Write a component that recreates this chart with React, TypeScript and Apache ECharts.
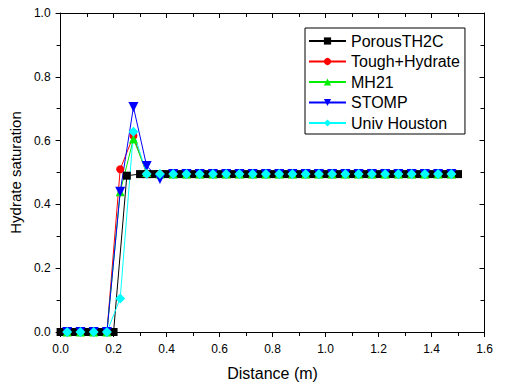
import React, { useEffect, useRef } from "react";
import * as echarts from "echarts";

const seriesNames = ["PorousTH2C", "Tough+Hydrate", "MH21", "STOMP", "Univ Houston"];
const seriesColors = ["#000000", "#ff0000", "#00ee00", "#0000ff", "#00ffff"];

// PorousTH2C (dense output)
const xPorous = [
  0, 0.025, 0.05, 0.075, 0.1, 0.125, 0.15, 0.175, 0.2,
  0.25,
  0.3, 0.325, 0.35, 0.375, 0.4, 0.425, 0.45, 0.475, 0.5, 0.525, 0.55, 0.575, 0.6, 0.625, 0.65, 0.675,
  0.7, 0.725, 0.75, 0.775, 0.8, 0.825, 0.85, 0.875, 0.9, 0.925, 0.95, 0.975, 1.0, 1.025, 1.05, 1.075,
  1.1, 1.125, 1.15, 1.175, 1.2, 1.225, 1.25, 1.275, 1.3, 1.325, 1.35, 1.375, 1.4, 1.425, 1.45, 1.475, 1.5,
];
const yPorous = [
  0, 0, 0, 0, 0, 0, 0, 0, 0,
  0.49,
  0.495, 0.495, 0.495, 0.495, 0.495, 0.495, 0.495, 0.495, 0.495, 0.495, 0.495, 0.495, 0.495, 0.495, 0.495, 0.495,
  0.495, 0.495, 0.495, 0.495, 0.495, 0.495, 0.495, 0.495, 0.495, 0.495, 0.495, 0.495, 0.495, 0.495, 0.495, 0.495,
  0.495, 0.495, 0.495, 0.495, 0.495, 0.495, 0.495, 0.495, 0.495, 0.495, 0.495, 0.495, 0.495, 0.495, 0.495, 0.495, 0.495,
];

// Other codes: cell centres every 0.05 m
const xCells = [
  0.025, 0.075, 0.125, 0.175, 0.225, 0.275, 0.325, 0.375, 0.425, 0.475,
  0.525, 0.575, 0.625, 0.675, 0.725, 0.775, 0.825, 0.875, 0.925, 0.975,
  1.025, 1.075, 1.125, 1.175, 1.225, 1.275, 1.325, 1.375, 1.425, 1.475,
];
const yTough = [
  0, 0, 0, 0, 0.51, 0.615, 0.495, 0.495, 0.495, 0.495,
  0.495, 0.495, 0.495, 0.495, 0.495, 0.495, 0.495, 0.495, 0.495, 0.495,
  0.495, 0.495, 0.495, 0.495, 0.495, 0.495, 0.495, 0.495, 0.495, 0.495,
];
const yMH21 = [
  0, 0, 0, 0, 0.44, 0.605, 0.5, 0.495, 0.495, 0.495,
  0.495, 0.495, 0.495, 0.495, 0.495, 0.495, 0.495, 0.495, 0.495, 0.495,
  0.495, 0.495, 0.495, 0.495, 0.495, 0.495, 0.495, 0.495, 0.495, 0.495,
];
const ySTOMP = [
  0, 0, 0, 0, 0.44, 0.705, 0.52, 0.48, 0.495, 0.495,
  0.495, 0.495, 0.495, 0.495, 0.495, 0.495, 0.495, 0.495, 0.495, 0.495,
  0.495, 0.495, 0.495, 0.495, 0.495, 0.495, 0.495, 0.495, 0.495, 0.495,
];
const yHouston = [
  0, 0, 0, 0, 0.105, 0.628, 0.495, 0.495, 0.495, 0.495,
  0.495, 0.495, 0.495, 0.495, 0.495, 0.495, 0.495, 0.495, 0.495, 0.495,
  0.495, 0.495, 0.495, 0.495, 0.495, 0.495, 0.495, 0.495, 0.495, 0.495,
];

const FONT = "'Liberation Sans', Arial, sans-serif";

function pairs(xs: number[], ys: number[]) {
  return xs.map((x, i) => [x, ys[i]]);
}

export default function App() {
  const ref = useRef<HTMLDivElement>(null);
  useEffect(() => {
    document.body.style.margin = "0";
    const chart = echarts.init(ref.current!, null, { renderer: "svg" });
    const axisCommon = {
      axisLine: { show: true, onZero: false, lineStyle: { color: "#000", width: 1 } },
      splitLine: { show: false },
      minorSplitLine: { show: false },
    };
    const mkSeries = (i: number, data: number[][], symbol: string, size: number, rotate = 0) => ({
      name: seriesNames[i],
      type: "line",
      data,
      symbol,
      symbolSize: size,
      symbolRotate: rotate,
      showSymbol: true,
      color: seriesColors[i],
      lineStyle: { color: seriesColors[i], width: 1 },
      itemStyle: { color: seriesColors[i] },
      xAxisIndex: 0,
      yAxisIndex: 0,
    });
    chart.setOption({
      animation: false,
      backgroundColor: "#fff",
      textStyle: { fontFamily: FONT },
      grid: { left: 54, right: 21.5, top: 13, bottom: 60, containLabel: false },
      legend: {
        orient: "vertical",
        left: 305,
        top: 28,
        padding: [5, 5, 3, 3],
        borderColor: "#000",
        borderWidth: 1,
        backgroundColor: "#fff",
        itemWidth: 37,
        itemHeight: 9,
        itemGap: 4.5,
        textStyle: { fontSize: 16, color: "#000", fontFamily: FONT },
        data: seriesNames,
      },
      xAxis: [
        {
          ...axisCommon,
          type: "value",
          position: "bottom",
          min: 0,
          max: 1.6,
          interval: 0.2,
          name: "Distance (m)",
          nameLocation: "middle",
          nameGap: 33,
          nameTextStyle: { fontSize: 16, color: "#000", fontFamily: FONT },
          axisTick: { show: true, inside: false, length: 5, lineStyle: { color: "#000" } },
          minorTick: { show: true, splitNumber: 2, length: 4, lineStyle: { color: "#000" } },
          axisLabel: {
            fontSize: 12,
            color: "#000",
            margin: 11,
            fontFamily: FONT,
            formatter: (v: number) => v.toFixed(1),
          },
        },
        {
          ...axisCommon,
          type: "value",
          position: "top",
          min: 0,
          max: 1.6,
          interval: 0.2,
          axisTick: { show: true, inside: true, length: 5, lineStyle: { color: "#000" } },
          minorTick: { show: true, splitNumber: 2, length: 4, lineStyle: { color: "#000" } },
          axisLabel: { show: false },
        },
      ],
      yAxis: [
        {
          ...axisCommon,
          type: "value",
          position: "left",
          min: 0,
          max: 1,
          interval: 0.2,
          name: "Hydrate saturation",
          nameLocation: "middle",
          nameGap: 36,
          nameTextStyle: { fontSize: 15, color: "#000", fontFamily: FONT },
          axisTick: { show: true, inside: false, length: 5, lineStyle: { color: "#000" } },
          minorTick: { show: true, splitNumber: 2, length: 4, lineStyle: { color: "#000" } },
          axisLabel: {
            fontSize: 12,
            color: "#000",
            margin: 10,
            fontFamily: FONT,
            formatter: (v: number) => v.toFixed(1),
          },
        },
        {
          ...axisCommon,
          type: "value",
          position: "right",
          min: 0,
          max: 1,
          interval: 0.2,
          axisTick: { show: true, inside: true, length: 5, lineStyle: { color: "#000" } },
          minorTick: { show: true, splitNumber: 2, length: 4, lineStyle: { color: "#000" } },
          axisLabel: { show: false },
        },
      ],
      series: [
        mkSeries(0, pairs(xPorous, yPorous), "rect", 8),
        mkSeries(1, pairs(xCells, yTough), "circle", 8),
        mkSeries(2, pairs(xCells, yMH21), "triangle", 9),
        mkSeries(3, pairs(xCells, ySTOMP), "triangle", 10, 180),
        mkSeries(4, pairs(xCells, yHouston), "diamond", 10),
      ],
    });
    return () => chart.dispose();
  }, []);
  return (
    <div
      ref={ref}
      style={{ position: "absolute", left: 0, top: 0, width: 506, height: 392, background: "#fff" }}
    />
  );
}
